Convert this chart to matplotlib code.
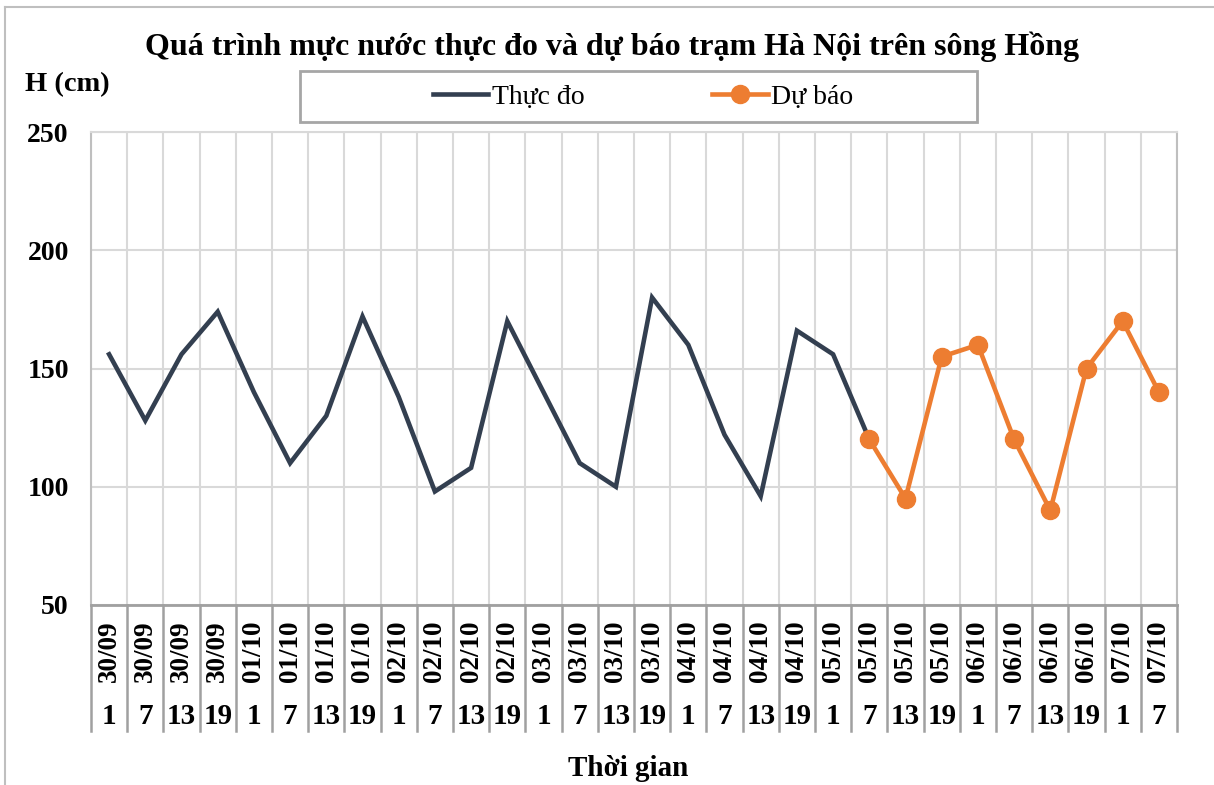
import matplotlib
matplotlib.use("Agg")
import matplotlib.pyplot as plt
from matplotlib.patches import Rectangle
from matplotlib.lines import Line2D
import matplotlib.transforms as mtransforms

plt.rcParams['font.family'] = ['Liberation Serif', 'DejaVu Serif']

# ---- data ----
date_labels = ['30/09', '30/09', '30/09', '30/09',
               '01/10', '01/10', '01/10', '01/10',
               '02/10', '02/10', '02/10', '02/10',
               '03/10', '03/10', '03/10', '03/10',
               '04/10', '04/10', '04/10', '04/10',
               '05/10', '05/10', '05/10', '05/10',
               '06/10', '06/10', '06/10', '06/10',
               '07/10', '07/10']
hour_labels = ['1', '7', '13', '19', '1', '7', '13', '19',
               '1', '7', '13', '19', '1', '7', '13', '19',
               '1', '7', '13', '19', '1', '7', '13', '19',
               '1', '7', '13', '19', '1', '7']
observed = [156, 128, 156, 174, 140, 110, 130, 172, 138, 98, 108, 170,
            140, 110, 100, 180, 160, 122, 96, 166, 156, 120]
forecast = [120, 95, 155, 160, 120, 90, 150, 170, 140]
forecast_start = 21
y_ticks = [50, 100, 150, 200, 250]

title = 'Quá trình mực nước thực đo và dự báo trạm Hà Nội trên sông Hồng'
y_title = 'H (cm)'
x_title = 'Thời gian'
name_obs = 'Thực đo'
name_fc = 'Dự báo'

c_obs = '#333F50'
c_fc = '#ED7D31'
grid_c = '#D9D9D9'
sep_c = '#A0A0A0'

W, H = 1214, 785
fig = plt.figure(figsize=(W / 100, H / 100), dpi=100)
fig.patch.set_facecolor('white')

# outer chart border (left/top visible)
fig.add_artist(Line2D([5 / W, 5 / W], [0, 1 - 7 / H], transform=fig.transFigure,
                      color='#BFBFBF', lw=1.5))
fig.add_artist(Line2D([5 / W, 1], [1 - 7 / H, 1 - 7 / H], transform=fig.transFigure,
                      color='#BFBFBF', lw=1.5))

ax_l, ax_r, ax_t, ax_b = 91, 1177, 132, 605
ax = fig.add_axes([ax_l / W, 1 - ax_b / H, (ax_r - ax_l) / W, (ax_b - ax_t) / H])

n = len(date_labels)
xs_obs = list(range(len(observed)))
xs_fc = list(range(forecast_start, forecast_start + len(forecast)))

ax.set_xlim(-0.5, n - 0.5)
ax.set_ylim(50, 250)

# gridlines
for y in y_ticks:
    ax.axhline(y, color=grid_c, lw=1.5, zorder=0)
for k in range(n + 1):
    ax.axvline(k - 0.5, color=grid_c, lw=1.5, zorder=0)

l1, = ax.plot(xs_obs, observed, color=c_obs, lw=3.3, solid_joinstyle='miter', zorder=3)
l2, = ax.plot(xs_fc, forecast, color=c_fc, lw=3.3, marker='o', markersize=13,
              zorder=4)

for s in ['top', 'right']:
    ax.spines[s].set_color(grid_c)
    ax.spines[s].set_linewidth(1.5)
ax.spines['right'].set_color('#BFBFBF')
ax.spines['left'].set_color('#BFBFBF')
ax.spines['left'].set_linewidth(1.5)
ax.spines['bottom'].set_color(sep_c)
ax.spines['bottom'].set_linewidth(2)

ax.set_xticks([])
ax.set_yticks(y_ticks)
ax.set_yticklabels([str(v) for v in y_ticks], fontsize=20, fontweight='bold')
ax.tick_params(axis='y', length=0, pad=16)

# multi-level category labels
trans = mtransforms.blended_transform_factory(ax.transData, ax.transAxes)
h_ax = ax_b - ax_t
sep_bottom = -(731 - ax_b) / h_ax
for k in range(n + 1):
    ax.plot([k - 0.5, k - 0.5], [0, sep_bottom], transform=trans, color=sep_c,
            lw=1.8, clip_on=False)
date_y = -(651 - ax_b) / h_ax
hour_y = -(716 - ax_b) / h_ax
for i in range(n):
    ax.text(i, date_y, date_labels[i], transform=trans, rotation=90,
            ha='center', va='center', fontsize=19.5, fontweight='bold')
    ax.text(i, hour_y, hour_labels[i], transform=trans,
            ha='center', va='center', fontsize=21, fontweight='bold')

# titles
fig.text(612 / W, 1 - 47 / H, title, ha='center', va='center',
         fontsize=23, fontweight='bold')
fig.text(25 / W, 1 - 85 / H, y_title, ha='left', va='center',
         fontsize=20.5, fontweight='bold')
fig.text(628 / W, 1 - 768 / H, x_title, ha='center', va='center',
         fontsize=21, fontweight='bold')

# legend box
fig.add_artist(Rectangle((300 / W, 1 - 122 / H), (977 - 300) / W, (122 - 71) / H,
                         transform=fig.transFigure, facecolor='white',
                         edgecolor='#A6A6A6', lw=2))
fig.legend([l1, l2], [name_obs, name_fc], loc='center',
           bbox_to_anchor=(643 / W, 1 - 97 / H), ncol=2, frameon=False,
           fontsize=20, handlelength=2.0, handletextpad=0.12,
           columnspacing=4.6, borderpad=0)

fig.savefig('out.png', dpi=100)
